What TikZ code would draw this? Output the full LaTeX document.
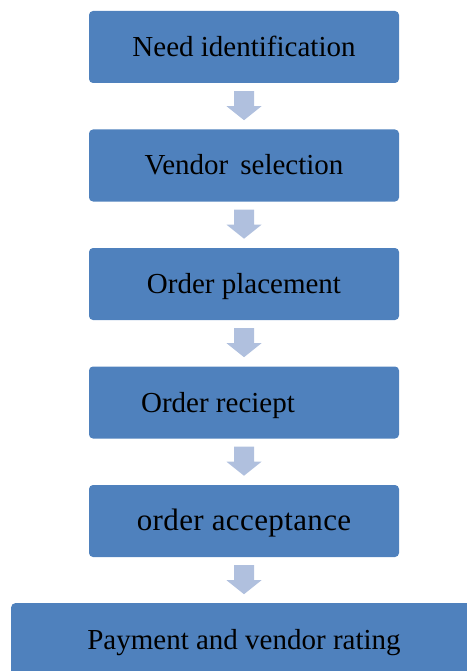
\documentclass[tikz,border=0pt]{standalone}
\usepackage{fontspec}
\setmainfont{Liberation Serif}
\usetikzlibrary{calc}
\definecolor{boxblue}{RGB}{79,129,189}
\definecolor{arrowblue}{RGB}{176,192,222}
% block arrow pointing down from the bottom of one step towards the next
\newcommand{\downarrowblock}[1]{%
  \fill[arrowblue]
    ($(#1.south)+(-10,8)$) -- ($(#1.south)+(10,8)$) -- ($(#1.south)+(10,23)$)
    -- ($(#1.south)+(17.5,23)$) -- ($(#1.south)+(0,37)$)
    -- ($(#1.south)+(-17.5,23)$) -- ($(#1.south)+(-10,23)$) -- cycle;}
\begin{document}
\begin{tikzpicture}[x=1pt,y=-1pt,
  steptext/.style={inner sep=0pt, text=black, text height=19pt, text depth=0pt,
    font=\fontsize{29}{33}\selectfont},
  stepbox/.style={steptext, fill=boxblue, rounded corners=4pt,
    minimum width=310pt, minimum height=72pt}]
\useasboundingbox (0,0) rectangle (466,671);
\node[stepbox] (s1) at (244,47) {Need identification};
\node[stepbox] (s2) at (244,165.5) {Vendor\ \,selection};
\node[stepbox] (s3) at (244,284) {Order placement};
\node[stepbox] (s4) at (244,402.5) {Order reciept\kern52pt};
\node[stepbox, font=\fontsize{31}{35}\selectfont] (s5) at (244,521)
  {\addfontfeature{LetterSpace=1.2}order acceptance};
\node[stepbox, minimum width=480pt, minimum height=90pt, anchor=north west] (s6) at (11,603) {};
\node[steptext] (s6t) at (244,639.5) {Payment and vendor rating};
\downarrowblock{s1}
\downarrowblock{s2}
\downarrowblock{s3}
\downarrowblock{s4}
\downarrowblock{s5}
\end{tikzpicture}
\end{document}
